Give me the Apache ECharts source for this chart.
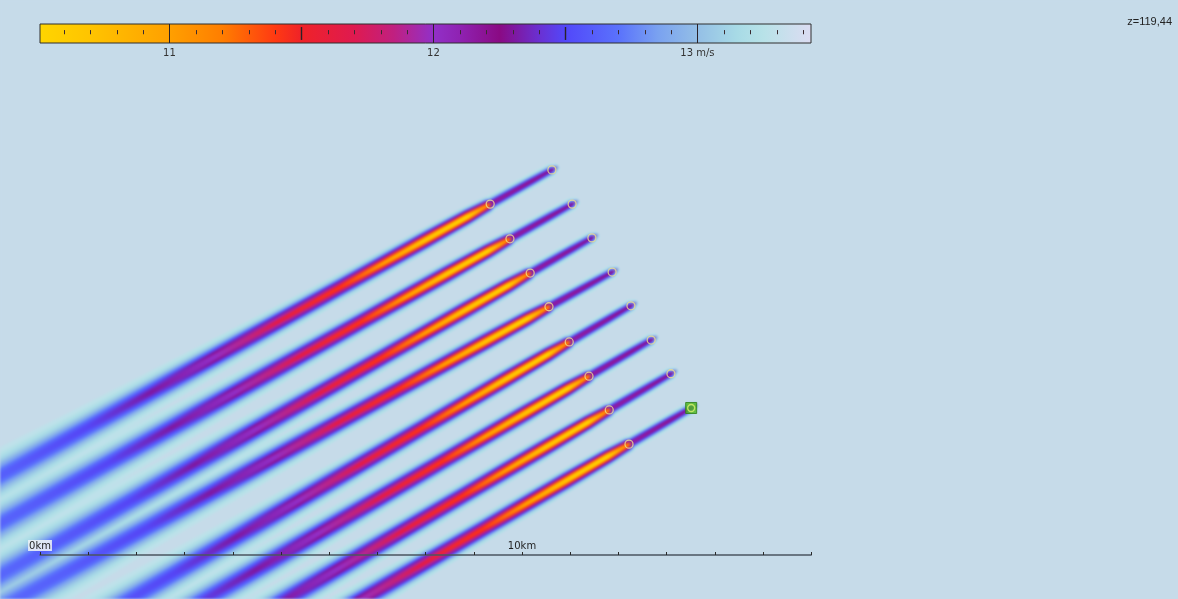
<!DOCTYPE html>
<html>
<head>
<meta charset="utf-8">
<title>Wind farm wake – hub-height wind speed</title>
<script src="https://cdn.jsdelivr.net/npm/echarts@6/dist/echarts.min.js"></script>
<style>
  html, body { margin: 0; padding: 0; background: #c6dbe9; }
  #wrap { position: relative; width: 1178px; height: 599px; overflow: hidden; }
  #field, #overlay { position: absolute; left: 0; top: 0; width: 1178px; height: 599px; }
  #field { filter: blur(0.9px); }
</style>
</head>
<body>
<div id="wrap">
  <div id="field"></div>
  <div id="overlay"></div>
</div>
<script>
// ---- Turbine layout (km, map frame; origin at the scale bar's zero) ----
const frontX = [10.62, 11.04, 11.45, 11.87, 12.26, 12.68, 13.09, 13.51];
const frontY = [7.99, 7.28, 6.58, 5.87, 5.17, 4.46, 3.76, 3.05];
const rearX  = [9.34, 9.75, 10.17, 10.56, 10.98, 11.39, 11.81, 12.22];
const rearY  = [7.28, 6.56, 5.85, 5.15, 4.42, 3.71, 3.01, 2.30];
const selectedTurbine = 7;           // index in the front row

// ---- Wake centreline: distance behind the front turbine (km), speed (m/s), width (km) ----
const wakeDist  = [-0.15, 0.0,   0.5,   1.42,  1.52,  2.0,   3.0,   4.0,   5.0,   6.5,   8.0,   9.5,   11.0,  13.0,  16.0];
const wakeCore  = [13.0,  12.25, 12.15, 12.1,  11.1,  10.5,  10.65, 11.0,  11.4,  11.65, 12.0,  12.3,  12.48, 12.6,  12.7];
const wakeSigma = [0.03,  0.055, 0.06,  0.065, 0.07,  0.08,  0.09,  0.095, 0.1,   0.112, 0.13,  0.15,  0.17,  0.2,   0.235];
const freeStream = 13.33;            // undisturbed wind speed (m/s)

// ---- Colour scale (m/s) ----
const cmapValues = [10.5, 10.7, 10.9, 11.0, 11.2, 11.4, 11.5, 11.7, 11.85, 12.0, 12.1, 12.25, 12.4, 12.5, 12.7, 12.85, 13.0, 13.15, 13.25, 13.43];
const cmapColors = ['#ffd500', '#ffc400', '#ffac00', '#ffa000', '#ff7e00', '#ff3a12', '#ef2228', '#df1a50', '#c02080', '#9230c8',
                    '#8f22b2', '#8a0a84', '#6a30d2', '#5248fa', '#5a72fc', '#7aa2f0', '#94bfe6', '#a8dbe6', '#b8e2e8', '#dcdcf2'];

// ---- Colour bar ticks and labels ----
const barMin = 10.51, barMax = 13.43;
const barMajor = [11, 12, 13];
const barMid = [11.5, 12.5];
const barMinor = [10.6, 10.7, 10.8, 10.9, 11.1, 11.2, 11.3, 11.4, 11.6, 11.7, 11.8, 11.9,
                  12.1, 12.2, 12.3, 12.4, 12.6, 12.7, 12.8, 12.9, 13.1, 13.2, 13.3, 13.4];
const barLabels = { 11: '11', 12: '12', 13: '13 m/s' };

// ---- Distance scale bar ----
const scaleMaxKm = 16;
const scaleLabels = { 0: '0km', 10: '10km' };
const heightLabel = 'z=119,44';

// ---- helpers ----
function hexToRgb(h) { const n = parseInt(h.slice(1), 16); return [(n >> 16) & 255, (n >> 8) & 255, n & 255]; }
const cmapRgb = cmapColors.map(hexToRgb);
function cmap(v) {
  const n = cmapValues.length;
  if (v <= cmapValues[0]) return 'rgb(' + cmapRgb[0].join(',') + ')';
  if (v >= cmapValues[n - 1]) return 'rgb(' + cmapRgb[n - 1].join(',') + ')';
  let i = 0;
  while (v > cmapValues[i + 1]) i++;
  const t = (v - cmapValues[i]) / (cmapValues[i + 1] - cmapValues[i]);
  const a = cmapRgb[i], b = cmapRgb[i + 1];
  return 'rgb(' + a.map((c, k) => Math.round(c + (b[k] - c) * t)).join(',') + ')';
}

// Cross-wake bands: edge = share of the centreline deficit at the band's outer edge
const bandEdge = [0.03, 0.09, 0.16, 0.24, 0.33, 0.43, 0.53, 0.63, 0.73, 0.82, 0.9, 0.96];
const bandHalfWidth = bandEdge.map(e => Math.sqrt(-2 * Math.log(e)));
const bandFill = bandEdge.map((e, j) => j < bandEdge.length - 1 ? (e + bandEdge[j + 1]) / 2 : 0.99);

// one item per (band, wake), outer bands first so every core sits on top
const wakeItems = [];
bandEdge.forEach((_, j) => frontX.forEach((__, w) => wakeItems.push([w, j])));

function renderWake(params, api) {
  const w = api.value(0), j = api.value(1);
  const ux = frontX[w], uy = frontY[w];
  let dx = rearX[w] - ux, dy = rearY[w] - uy;
  const len = Math.hypot(dx, dy); dx /= len; dy /= len;
  const nx = -dy, ny = dx;
  const k = bandHalfWidth[j];
  const left = [], right = [];
  for (let i = 0; i < wakeDist.length; i++) {
    const s = wakeDist[i];
    const cx = ux + dx * s, cy = uy + dy * s, h = wakeSigma[i] * k;
    left.push(api.coord([cx + nx * h, cy + ny * h]));
    right.push(api.coord([cx - nx * h, cy - ny * h]));
  }
  const s0 = wakeDist[0], s1 = wakeDist[wakeDist.length - 1];
  const p0 = api.coord([ux + dx * s0, uy + dy * s0]);
  const p1 = api.coord([ux + dx * s1, uy + dy * s1]);
  const stops = wakeDist.map((s, i) => ({
    offset: (s - s0) / (s1 - s0),
    color: cmap(freeStream - (freeStream - wakeCore[i]) * bandFill[j])
  }));
  return {
    type: 'polygon',
    shape: { points: left.concat(right.reverse()) },
    style: { fill: { type: 'linear', x: p0[0], y: p0[1], x2: p1[0], y2: p1[1], global: true, colorStops: stops } },
    silent: true
  };
}

function renderBar(params, api) {
  const a = api.coord([api.value(0), 0]);
  const b = api.coord([api.value(1), 1]);
  return {
    type: 'rect',
    shape: { x: a[0], y: b[1], width: b[0] - a[0], height: a[1] - b[1] },
    style: {
      fill: {
        type: 'linear', x: 0, y: 0, x2: 1, y2: 0,
        colorStops: cmapValues.map((v, i) => ({ offset: Math.max(0, (v - barMin) / (barMax - barMin)), color: cmapColors[i] }))
      },
      stroke: '#2e2e2e', lineWidth: 1
    }
  };
}

function renderBarTick(params, api) {
  const v = api.value(0), kind = api.value(1);
  const span = kind === 2 ? [0, 1] : kind === 1 ? [0.16, 0.84] : [0.46, 0.68];
  const a = api.coord([v, span[0]]), b = api.coord([v, span[1]]);
  const x = Math.round(a[0]) + 0.5;
  return {
    type: 'line',
    shape: { x1: x, y1: a[1], x2: x, y2: b[1] },
    style: { stroke: kind === 0 ? '#3a2a30' : '#2a2228', lineWidth: kind === 1 ? 1.4 : 1 }
  };
}

const tickItems = barMinor.map(v => [v, 0]).concat(barMid.map(v => [v, 1]), barMajor.map(v => [v, 2]));

// map frame: 48.2 px per km on both axes
const pxPerKm = 48.2;
const W = 1178, H = 599, ox = 40, oy = 555;
const mapX = { gridIndex: 0, type: 'value', min: -ox / pxPerKm, max: (W - ox) / pxPerKm, show: false };
const mapY = { gridIndex: 0, type: 'value', min: -(H - oy) / pxPerKm, max: oy / pxPerKm, show: false };

// wind-speed field (softened slightly, like a continuous raster)
const field = echarts.init(document.getElementById('field'), null, { renderer: 'canvas' });
field.setOption({
  backgroundColor: '#c6dbe9',
  animation: false,
  grid: { left: 0, top: 0, width: W, height: H },
  xAxis: mapX,
  yAxis: mapY,
  series: [{
    type: 'custom', name: 'wakes', clip: true,
    renderItem: renderWake, data: wakeItems, silent: true
  }]
});

// turbines, colour bar, scale bar and labels
const overlay = echarts.init(document.getElementById('overlay'), null, { renderer: 'canvas' });
overlay.setOption({
  backgroundColor: 'transparent',
  animation: false,
  textStyle: { fontFamily: 'DejaVu Sans' },
  title: {
    text: heightLabel, right: 1, top: 11,
    textStyle: { fontSize: 11, fontWeight: 'normal', color: '#222', fontFamily: 'Liberation Sans' }
  },
  grid: [
    { left: 0, top: 0, width: W, height: H },
    { left: ox, top: oy - 1, width: scaleMaxKm * pxPerKm, height: 1 },
    { left: 40, top: 24, width: 771, height: 19 }
  ],
  xAxis: [
    mapX,
    {
      gridIndex: 1, type: 'value', min: 0, max: scaleMaxKm, interval: 1, position: 'bottom',
      axisLine: { lineStyle: { color: '#4b5560', width: 1.5 } },
      axisTick: { inside: true, length: 3, lineStyle: { color: '#2a2a2a', width: 1 } },
      splitLine: { show: false },
      axisLabel: {
        inside: true, margin: 4, color: '#1e1e1e', fontSize: 10, fontFamily: 'DejaVu Sans',
        formatter: v => v === 0 ? '{z|' + scaleLabels[0] + '}' : (scaleLabels[v] || ''),
        rich: { z: { backgroundColor: 'rgba(236,241,246,0.9)', padding: [1, 1, 0, 1], fontSize: 10, color: '#1e1e1e' } }
      }
    },
    {
      gridIndex: 2, type: 'value', min: barMin, max: barMax,
      axisLine: { show: false }, axisTick: { show: false }, splitLine: { show: false },
      axisLabel: {
        customValues: barMajor,
        margin: 5, color: '#333', fontSize: 10, fontFamily: 'DejaVu Sans',
        formatter: v => barLabels[Math.round(v)] || ''
      }
    }
  ],
  yAxis: [
    mapY,
    { gridIndex: 1, type: 'value', min: 0, max: 1, show: false },
    { gridIndex: 2, type: 'value', min: 0, max: 1, show: false }
  ],
  series: [
    {
      type: 'scatter', name: 'turbines', xAxisIndex: 0, yAxisIndex: 0,
      data: frontX.map((x, i) => [x, frontY[i]]).concat(rearX.map((x, i) => [x, rearY[i]])),
      symbol: 'circle', symbolSize: 8,
      itemStyle: { color: 'rgba(0,0,0,0)', borderColor: '#f0e08c', borderWidth: 1.3 },
      z: 5, silent: true
    },
    {
      type: 'scatter', name: 'selected', xAxisIndex: 0, yAxisIndex: 0,
      data: [[frontX[selectedTurbine], frontY[selectedTurbine]]],
      symbol: 'rect', symbolSize: 11,
      itemStyle: { color: '#4bb81d', borderColor: '#2e7d12', borderWidth: 1 },
      z: 6, silent: true
    },
    {
      type: 'scatter', name: 'selectedRing', xAxisIndex: 0, yAxisIndex: 0,
      data: [[frontX[selectedTurbine], frontY[selectedTurbine]]],
      symbol: 'circle', symbolSize: 7,
      itemStyle: { color: 'rgba(0,0,0,0)', borderColor: '#d8f070', borderWidth: 1.3 },
      z: 7, silent: true
    },
    {
      type: 'custom', name: 'colourbar', xAxisIndex: 2, yAxisIndex: 2,
      renderItem: renderBar, data: [[barMin, barMax]], silent: true, z: 10
    },
    {
      type: 'custom', name: 'colourbarTicks', xAxisIndex: 2, yAxisIndex: 2,
      renderItem: renderBarTick, data: tickItems, silent: true, z: 11
    }
  ]
});
</script>
</body>
</html>
